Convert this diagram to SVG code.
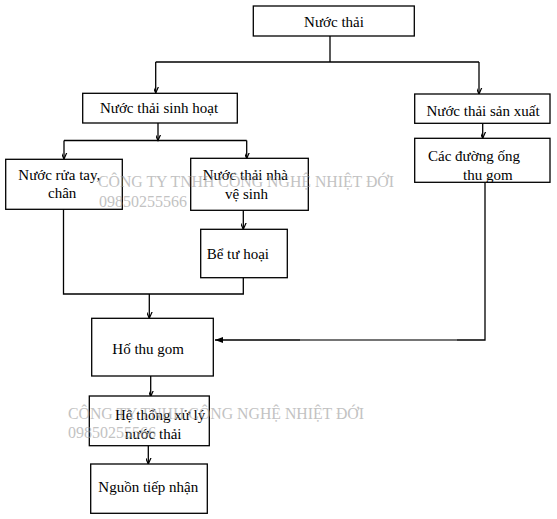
<svg xmlns="http://www.w3.org/2000/svg" width="557" height="519" viewBox="0 0 557 519">
<style>
.box{fill:#fff;stroke:#000;stroke-width:1.3}
.t{font-family:"Liberation Serif","Times New Roman",serif;font-size:15px;fill:#000}
.c{fill:none;stroke:#000;stroke-width:1.3}
.wm{font-family:"Liberation Serif","Times New Roman",serif;font-size:16px;fill:#9a9a9a;opacity:0.6}
</style>
<defs>
<marker id="open" markerUnits="userSpaceOnUse" markerWidth="12" markerHeight="12" viewBox="-6 -10 12 12" refX="0" refY="0" orient="auto-start-reverse">
<path d="M-8,-3.5 L0,0 L-8,3.5" fill="none" stroke="#000" stroke-width="1.2"/>
</marker>
<marker id="fill" markerUnits="userSpaceOnUse" markerWidth="12" markerHeight="12" viewBox="-10 -6 12 12" refX="0" refY="0" orient="auto">
<path d="M-8,-3 L0,0 L-8,3 Z" fill="#000"/>
</marker>
</defs>
<rect width="557" height="519" fill="#fff"/>
<g id="connectors">
<path class="c" d="M330,36 V62"/>
<path class="c" d="M155.7,62 H479"/>
<path class="c" d="M155.7,62 V93" marker-end="url(#open)"/>
<path class="c" d="M479,62 V94" marker-end="url(#open)"/>
<path class="c" d="M158,123 V140.5" marker-end="url(#open)"/>
<path class="c" d="M64,140.5 H246.7"/>
<path class="c" d="M64,140.5 V159" marker-end="url(#open)"/>
<path class="c" d="M246.7,140.5 V158.5" marker-end="url(#open)"/>
<path class="c" d="M482.7,123.3 V138.3" marker-end="url(#open)"/>
<path class="c" d="M243.3,210.3 V229.3" marker-end="url(#open)"/>
<path class="c" d="M63.5,209.3 V294 H243.3 V277.7"/>
<path class="c" d="M149.3,294 V318.3" marker-end="url(#open)"/>
<path class="c" d="M485,182.3 V340 H215" marker-end="url(#fill)"/>
<path d="M300,340 H457" stroke="#888" stroke-width="1.3"/>
<path class="c" d="M150.7,376 V396.5" marker-end="url(#open)"/>
<path class="c" d="M148.3,445.7 V464" marker-end="url(#open)"/>
</g>
<g id="n-nuoc-thai"><rect class="box" x="253.3" y="6" width="161" height="30"/><text class="t" x="334" y="26.5" text-anchor="middle">Nước thải</text></g>
<g id="n-sinh-hoat"><rect class="box" x="82.7" y="93.3" width="154.6" height="29.7"/><text class="t" x="159" y="113" text-anchor="middle">Nước thải sinh hoạt</text></g>
<g id="n-san-xuat"><rect class="box" x="414.7" y="94" width="135.3" height="29.3"/><text class="t" x="483" y="116" text-anchor="middle">Nước thải sản xuất</text></g>
<g id="n-duong-ong"><rect class="box" x="414.7" y="138.3" width="135.3" height="44"/><text class="t" x="428" y="161">Các đường ống</text><text class="t" x="463" y="180">thu gom</text></g>
<g id="n-rua-tay"><rect class="box" x="5.7" y="159.3" width="116.6" height="50"/><text class="t" x="18.3" y="179.5">Nước rửa tay,</text><text class="t" x="48" y="198">chân</text></g>
<g id="n-nha-ve-sinh"><rect class="box" x="190.7" y="158.3" width="117.6" height="52"/><text class="t" x="202.7" y="180">Nước thải nhà</text><text class="t" x="225" y="199">vệ sinh</text></g>
<g id="n-be-tu-hoai"><rect class="box" x="200.7" y="229.3" width="86.6" height="48.4"/><text class="t" x="206.7" y="259">Bể tư hoại</text></g>
<g id="n-ho-thu-gom"><rect class="box" x="91.7" y="318.3" width="121.6" height="57.7"/><text class="t" x="112.3" y="354">Hố thu gom</text></g>
<g id="n-he-thong"><rect class="box" x="89.3" y="396" width="120" height="49.7"/><text class="t" x="115" y="420">Hệ thống xử lý</text><text class="t" x="125" y="439">nước thải</text></g>
<g id="n-nguon"><rect class="box" x="90.7" y="464" width="116.6" height="49.3"/><text class="t" x="98.3" y="492">Nguồn tiếp nhận</text></g>
<g id="watermarks">
<text class="wm" x="98" y="186.5" textLength="296" lengthAdjust="spacingAndGlyphs">CÔNG TY TNHH CÔNG NGHỆ NHIỆT ĐỚI</text>
<text class="wm" x="99" y="207">09850255566</text>
<text class="wm" x="68" y="418.5" textLength="296" lengthAdjust="spacingAndGlyphs">CÔNG TY TNHH CÔNG NGHỆ NHIỆT ĐỚI</text>
<text class="wm" x="68" y="438">09850255566</text>
</g>
</svg>
